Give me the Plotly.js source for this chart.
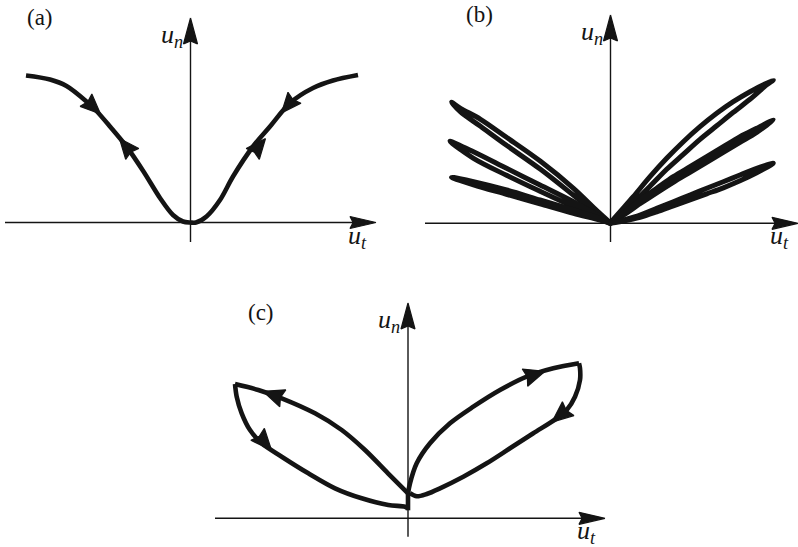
<!DOCTYPE html>
<html>
<head>
<meta charset="utf-8">
<script src="https://cdn.plot.ly/plotly-3.0.1.min.js"></script>
<style>
  body { margin: 0; background: #fff; }
  #chart { width: 798px; height: 547px; }
</style>
</head>
<body>
<div id="chart"></div>
<script>
// Contact trajectories u_n vs u_t, three schematic panels
// all curve values are in pixels relative to each panel's axis origin (y up)

// ---- panel (a) ----
const aCurveX = [-164.5, -140.5, -124, -104, -94, -80.5, -64, -47, -30.5, -17.5, -7.5, 0, 5.5, 16, 29.5, 42.5, 62.5, 79.5, 99.5, 122.5, 142.5, 167.5];
const aCurveY = [147, 143, 136.5, 121, 111.5, 96, 76, 51, 24.5, 7.5, 1, 0, 0, 6, 22.5, 46, 76, 96, 119.5, 134.5, 142, 147.5];
const aArrowX = [-90, -71, 91, 75];
const aArrowY = [108.5, 84, 109.5, 84];
const aArrowDX = [10, -16.5, -20, 16.5];
const aArrowDY = [-9.5, 20, -23.5, 20];

// ---- panel (b): six thin loops, upper and lower edge of each ----
const bUpperX = [
    [0, -14, -37, -70, -104, -130, -150, -159],
    [0, -10.5, -37, -70.5, -104, -137, -160.5],
    [0, -10.5, -37, -70.5, -104, -137, -159],
    [0, 22.8, 39.5, 56.2, 72.8, 89.5, 106.2, 122.8, 139.5, 162.8],
    [0, 12.8, 29.5, 46.2, 62.8, 79.5, 96.2, 112.8, 129.5, 146.2, 162.8],
    [0, 12.8, 29.5, 46.2, 62.8, 79.5, 96.2, 112.8, 129.5, 146.2, 162.8]
];
const bUpperY = [
    [0, 13, 35, 62, 86, 104, 115, 121],
    [0, 6.6, 21.6, 38.3, 55, 71.6, 82],
    [0, 5, 13.3, 23.3, 33.3, 41.6, 46],
    [0, 26.6, 46.6, 65, 81.6, 96.6, 110, 121.6, 131.6, 143.3],
    [0, 10, 23.3, 35, 46.6, 56.6, 66.6, 76.6, 86.6, 95, 103.3],
    [0, 3.3, 8.3, 15, 21.6, 28.3, 35, 41.6, 48.3, 55, 60]
];
const bLowerX = [
    [0, -14, -37, -70, -104, -130, -150, -159],
    [0, -10.5, -37, -70.5, -104, -137, -160.5],
    [0, -10.5, -37, -70.5, -104, -137, -159],
    [0, 9.5, 22.8, 39.5, 56.2, 72.8, 89.5, 106.2, 122.8, 139.5, 156.2, 162.8],
    [0, 12.8, 29.5, 46.2, 62.8, 79.5, 96.2, 112.8, 129.5, 146.2, 162.8],
    [0, 12.8, 29.5, 46.2, 62.8, 79.5, 96.2, 112.8, 129.5, 146.2, 162.8]
];
const bLowerY = [
    [0, 9.5, 28, 54, 78, 97, 111.5, 121],
    [0, 4.5, 16.5, 32, 48, 65, 82],
    [0, 3.2, 10, 19.5, 29, 38.5, 46],
    [0, 7, 20.5, 37, 54, 69, 84, 97.5, 111, 124, 138.5, 143.3],
    [0, 8, 19.5, 30.5, 41, 51, 61, 71, 81, 91, 103.3],
    [0, 2.2, 6, 11.5, 17.5, 23.5, 29.5, 35.5, 42.5, 50.5, 60]
];

// ---- panel (c) ----
const cLeftUpperX = [0, -20, -43, -66.3, -93, -126.3, -149.7, -173];
const cLeftUpperY = [25, 45, 68.3, 88.3, 105, 120, 128.3, 134.3];
const cLeftLowerX = [-173, -171.3, -166.3, -158, -146.3, -126.3, -99.7, -73, -46.3, -19.7, -3, 0];
const cLeftLowerY = [134.3, 121.6, 105, 88.3, 75, 61.6, 45, 30, 20, 13.3, 11.6, 10];
const cStemX = [0, 0];
const cStemY = [8, 27];
const cRightUpperX = [0, 2, 8.7, 22, 42, 65.3, 92, 118.7, 145.3, 171];
const cRightUpperY = [25, 35, 55, 75, 95, 111.6, 128.3, 141.6, 150, 155];
const cRightLowerX = [171, 172, 172, 167, 158.7, 148.7, 125.3, 102, 78.7, 55.3, 32, 18.7, 8.7, 2];
const cRightLowerY = [155, 150, 138.3, 121.6, 108.3, 100, 85, 70, 55, 41.6, 30, 24.3, 22, 25];
const cArrowX = [-145, -136.5, 137, 144];
const cArrowY = [127, 68.2, 147, 96.2];
const cArrowDX = [-23.4, 11.7, 26.6, -10];
const cArrowDY = [8.3, -13.3, 8.4, -8.3];

// axis extents per panel (a, b, c)
const axisLeft = [-185.5, -185.5, -193];
const axisTip = [185.5, 187.5, 197];
const axisBottom = [-19.5, -18.7, -18.4];
const axisTop = [204.5, 208.3, 215.3];
const panelLabels = ['(a)', '(b)', '(c)'];

// panel boxes in page pixels and where the axes cross
const W = 798, H = 547;
const boxLeft = [0, 400, 200], boxRight = [400, 798, 620];
const boxTop = [0, 0, 290], boxBottom = [262, 262, 547];
const originX = [190.5, 610.5, 408], originY = [222.5, 223.3, 518.3];

const INK = '#141414';
const SERIF = '"Liberation Serif", "DejaVu Serif", serif';

function axRef(i) {
    return i === 0 ? '' : String(i + 1);
}

// filled arrow head with a small notch at the back
function arrowHead(tx, ty, dx, dy, len, hw, i) {
    const n = Math.hypot(dx, dy);
    const ux = dx / n, uy = dy / n;
    const bx = tx - ux * len, by = ty - uy * len;
    const nx = tx - ux * len * 0.88, ny = ty - uy * len * 0.88;
    return {
        x: [tx, bx - uy * hw, nx, bx + uy * hw, tx],
        y: [ty, by + ux * hw, ny, by - ux * hw, ty],
        xaxis: 'x' + axRef(i), yaxis: 'y' + axRef(i),
        type: 'scatter', mode: 'lines', fill: 'toself',
        fillcolor: INK, line: {color: INK, width: 1.2},
        hoverinfo: 'skip'
    };
}

function curve(xs, ys, i, smooth, w) {
    return {
        x: xs, y: ys,
        xaxis: 'x' + axRef(i), yaxis: 'y' + axRef(i),
        type: 'scatter', mode: 'lines',
        line: {color: INK, width: w || 4.6, shape: smooth ? 'spline' : 'linear', smoothing: 0.9},
        hoverinfo: 'skip'
    };
}

function thinLine(xs, ys, i) {
    return {
        x: xs, y: ys,
        xaxis: 'x' + axRef(i), yaxis: 'y' + axRef(i),
        type: 'scatter', mode: 'lines',
        line: {color: INK, width: 1.4},
        hoverinfo: 'skip'
    };
}

const traces = [];
const annotations = [];
const layout = {
    width: W, height: H,
    margin: {l: 0, r: 0, t: 0, b: 0},
    paper_bgcolor: '#fff', plot_bgcolor: '#fff',
    showlegend: false
};

// axes with arrow heads + labels for every panel
for (let i = 0; i < 3; i++) {
    layout['xaxis' + axRef(i)] = {
        domain: [boxLeft[i] / W, boxRight[i] / W],
        range: [boxLeft[i] - originX[i], boxRight[i] - originX[i]],
        visible: false, fixedrange: true
    };
    layout['yaxis' + axRef(i)] = {
        domain: [1 - boxBottom[i] / H, 1 - boxTop[i] / H],
        range: [originY[i] - boxBottom[i], originY[i] - boxTop[i]],
        visible: false, fixedrange: true
    };

    traces.push(thinLine([axisLeft[i], axisTip[i] - 20], [0, 0], i));
    traces.push(thinLine([0, 0], [axisBottom[i], axisTop[i] - 20], i));
    traces.push(arrowHead(axisTip[i], 0, 1, 0, 26, 6, i));
    traces.push(arrowHead(0, axisTop[i], 0, 1, 26, 7, i));

    const xr = 'x' + axRef(i), yr = 'y' + axRef(i);
    annotations.push({
        xref: xr, yref: yr, x: -6, y: axisTop[i] - 18,
        xanchor: 'right', yanchor: 'middle', showarrow: false,
        text: '<i>u<sub>n</sub></i>',
        font: {family: SERIF, size: 26, color: INK}
    });
    annotations.push({
        xref: xr, yref: yr, x: axisTip[i] - 19, y: -14,
        xanchor: 'center', yanchor: 'middle', showarrow: false,
        text: '<i>u<sub>t</sub></i>',
        font: {family: SERIF, size: 26, color: INK}
    });
}

annotations.push({xref: 'x', yref: 'y', x: -150.5, y: 205.5, text: panelLabels[0],
    showarrow: false, font: {family: SERIF, size: 23, color: INK}});
annotations.push({xref: 'x2', yref: 'y2', x: -131.5, y: 209, text: panelLabels[1],
    showarrow: false, font: {family: SERIF, size: 23, color: INK}});
annotations.push({xref: 'x3', yref: 'y3', x: -147, y: 206, text: panelLabels[2],
    showarrow: false, font: {family: SERIF, size: 23, color: INK}});

// panel (a)
traces.push(curve(aCurveX, aCurveY, 0, true));
for (let k = 0; k < aArrowX.length; k++) {
    traces.push(arrowHead(aArrowX[k], aArrowY[k], aArrowDX[k], aArrowDY[k], 20, 8.5, 0));
}

// panel (b): each loop = upper edge out, lower edge back
for (let k = 0; k < bUpperX.length; k++) {
    const xs = bUpperX[k].concat(bLowerX[k].slice(0, -1).reverse());
    const ys = bUpperY[k].concat(bLowerY[k].slice(0, -1).reverse());
    traces.push(curve(xs, ys, 1, true, 5));
}

// panel (c)
traces.push(curve(cLeftUpperX, cLeftUpperY, 2, true));
traces.push(curve(cLeftLowerX, cLeftLowerY, 2, true));
traces.push(curve(cStemX, cStemY, 2, false));
traces.push(curve(cRightUpperX, cRightUpperY, 2, true));
traces.push(curve(cRightLowerX, cRightLowerY, 2, true));
for (let k = 0; k < cArrowX.length; k++) {
    traces.push(arrowHead(cArrowX[k], cArrowY[k], cArrowDX[k], cArrowDY[k], 21, 9, 2));
}

layout.annotations = annotations;

Plotly.newPlot('chart', traces, layout, {displayModeBar: false, staticPlot: true});
</script>
</body>
</html>
